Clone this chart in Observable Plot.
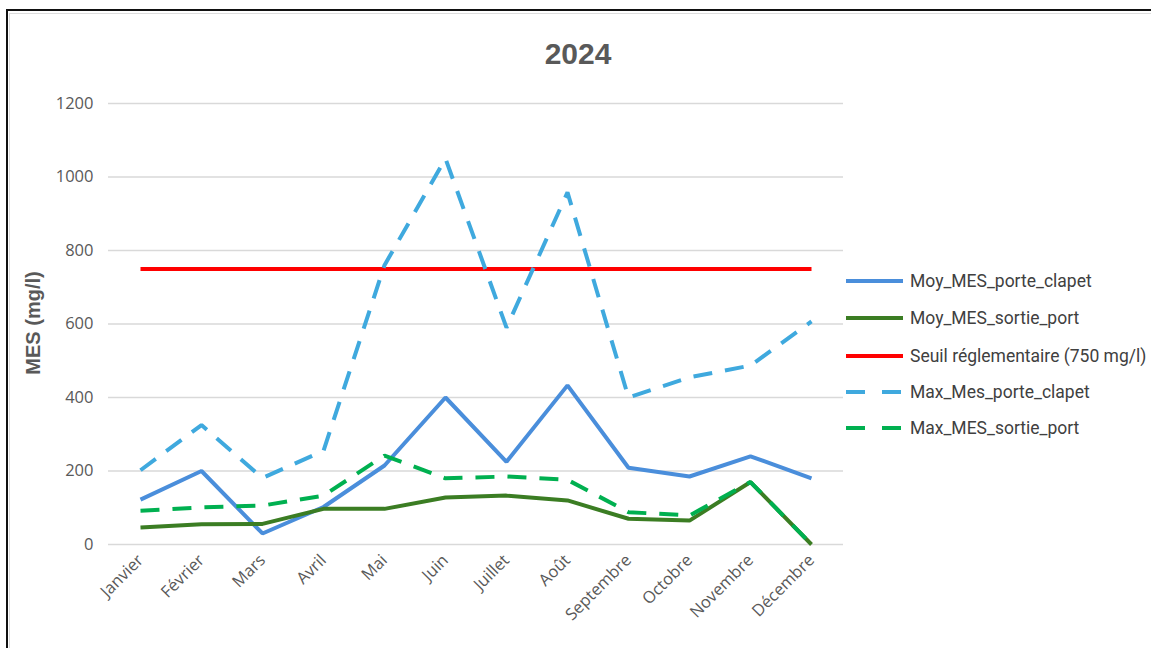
<!DOCTYPE html>
<html><head><meta charset="utf-8">
<script src="https://cdn.jsdelivr.net/npm/d3@7"></script>
<script src="https://cdn.jsdelivr.net/npm/@observablehq/plot@0.6"></script>
<style>
html,body{margin:0;padding:0;background:#fff}
body{width:1151px;height:648px;overflow:hidden;position:relative;font-family:"Liberation Sans",Arial,sans-serif}
#frame{position:absolute;left:6px;top:9px;width:1200px;height:700px;border-top:2px solid #111;border-left:2px solid #111}
#inner{position:absolute;left:9px;top:13px;width:1200px;height:700px;border-top:1px solid #dcdcdc;border-left:1px solid #dcdcdc}
#chart{position:absolute;left:0;top:0}
#title{position:absolute;left:478px;width:200px;top:34px;text-align:center;font-weight:bold;font-size:30px;color:#595959;line-height:40px}
#ylabel{position:absolute;left:33px;top:323px;transform:translate(-50%,-50%) rotate(-90deg);white-space:nowrap;font-weight:bold;font-size:20px;color:#595959}
#legend{position:absolute;left:846px;top:0;font-family:Roboto,"Noto Sans",sans-serif;font-size:17.5px;color:#404040}
.item{position:absolute;left:0;height:24px;display:flex;align-items:center;white-space:nowrap}
.item svg{margin-right:7px}
</style>
</head><body>
<div id="frame"></div><div id="inner"></div>
<div id="chart"></div>
<div id="title">2024</div>
<div id="ylabel">MES (mg/l)</div>
<div id="legend"></div>
<script>
const months = ["Janvier","Février","Mars","Avril","Mai","Juin","Juillet","Août","Septembre","Octobre","Novembre","Décembre"];
const moyPorteClapet = [122,200,30,102,215,400,225,433,209,185,240,180];
const moySortiePort = [46,55,56,97,97,128,133,120,70,65,170,0];
const seuilValue = 750;
const maxPorteClapet = [202,325,181,255,760,1050,590,958,400,455,487,607];
const maxSortiePort = [92,101,106,133,242,180,185,176,88,79,170,0];
const yTicks = [0,200,400,600,800,1000,1200];

const seriesNames = ["Moy_MES_porte_clapet","Moy_MES_sortie_port","Seuil réglementaire (750 mg/l)","Max_Mes_porte_clapet","Max_MES_sortie_port"];
const seriesColors = ["#4a8edb","#3b7d23","#ff0000","#3fa9de","#00b050"];
const seriesDash = [null,null,null,"19,13","19,13"];
const seriesValues = [moyPorteClapet, moySortiePort, months.map(() => seuilValue), maxPorteClapet, maxSortiePort];

const toRows = vals => months.map((m,i) => ({month:m, value:vals[i]}));

const plot = Plot.plot({
  width:1151, height:648,
  marginLeft:108, marginRight:308, marginTop:103, marginBottom:104,
  style:{fontFamily:'"Open Sans","Liberation Sans",sans-serif', fontSize:"16.5px", color:"#595959", background:"transparent"},
  x:{type:"point", domain:months, padding:0.5},
  y:{domain:[0,1200]},
  marks:[
    Plot.gridY(yTicks, {stroke:"#d9d9d9", strokeOpacity:1, strokeWidth:1.3}),
    Plot.axisY(yTicks, {tickSize:0, tickPadding:15, label:null, fill:"#595959", tickFormat:d => String(d)}),
    Plot.axisX({tickSize:0, tickRotate:-45, tickPadding:13, label:null, fill:"#595959"}),
    ...seriesValues.map((vals,i) => Plot.lineY(toRows(vals), {
      x:"month", y:"value", stroke:seriesColors[i], strokeWidth:4,
      strokeDasharray:seriesDash[i] || undefined, strokeLinejoin:"miter", strokeLinecap:"butt"
    }))
  ]
});
document.getElementById("chart").appendChild(plot);

const legendY = [281,318,356,392,428];
const leg = document.getElementById("legend");
seriesNames.forEach((name,i) => {
  const div = document.createElement("div");
  div.className = "item";
  div.style.top = (legendY[i]-12) + "px";
  const dash = seriesDash[i] ? 'stroke-dasharray="19,17"' : '';
  div.innerHTML = `<svg width="57" height="8"><line x1="0" x2="57" y1="4" y2="4" stroke="${seriesColors[i]}" stroke-width="4" ${dash}/></svg><span>${name}</span>`;
  leg.appendChild(div);
});
</script>
</body></html>
